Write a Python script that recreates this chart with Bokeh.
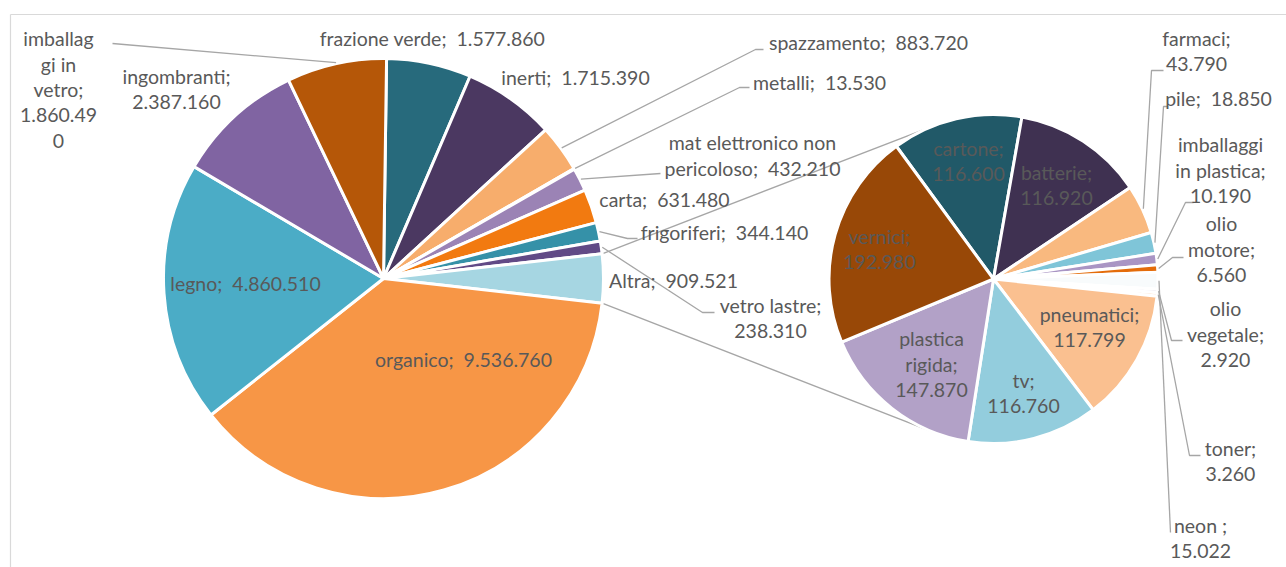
import math
from bokeh.plotting import figure
from bokeh.models import Range1d
from bokeh.core.properties import value
from bokeh.embed import file_html
from bokeh.resources import INLINE

# ---------------- data ----------------
main_names = ["frazione verde", "inerti", "spazzamento", "metalli",
              "mat elettronico non pericoloso", "carta", "frigoriferi",
              "vetro lastre", "Altra", "organico", "legno", "ingombranti",
              "imballaggi in vetro"]
main_values = [1577860, 1715390, 883720, 13530, 432210, 631480, 344140,
               238310, 909521, 9536760, 4860510, 2387160, 1860490]
main_colors = ["#276A7C", "#4B3861", "#F7AD6C", "#93CDDD", "#9B83B5", "#F27A10",
               "#3591A8", "#614A86", "#A6D6E2", "#F79646", "#4BACC6", "#8064A2",
               "#B55708"]

sub_names = ["cartone", "batterie", "farmaci", "pile", "imballaggi in plastica",
             "olio motore", "neon ", "olio vegetale", "toner", "pneumatici", "tv",
             "plastica rigida", "vernici"]
sub_values = [116600, 116920, 43790, 18850, 10190, 6560, 15022, 2920, 3260,
              117799, 116760, 147870, 192980]
sub_colors = ["#215968", "#3F3151", "#F9B97F", "#7FC5D8", "#A995C4", "#E46C0A",
              "#F8FBFC", "#E5E0EC", "#FCD5B5", "#FAC090", "#93CDDD", "#B2A1C7",
              "#984807"]

# ---------------- layout ----------------
W, H = 1286, 567
def Y(y):  # screen y -> data y
    return H - y

C1 = (383.0, Y(278)); R1 = 220.0
C2 = (993.0, Y(278.5)); R2 = 164.5
SUB_START = -36.2
LINE_H = 25.5
FONT_SIZE = "19.5px"
TEXT_COLOR = "#595959"
LEADER_COLOR = "#A6A6A6"
GAP = "\u00a0\u00a0"  # wide gap after the semicolon, as in the original

def fmt(v):
    return f"{v:,}".replace(",", ".")

def slices(values, start_deg):
    tot = float(sum(values)); out = []; a = start_deg
    for v in values:
        d = 360.0 * v / tot
        out.append((a, a + d)); a += d
    return out

def pt(c, r, a_deg):
    a = math.radians(a_deg)
    return (c[0] + r * math.sin(a), c[1] + r * math.cos(a))

tot1 = float(sum(main_values))
ia = main_names.index("Altra")
before = sum(main_values[:ia]) * 360.0 / tot1
main_start = 90.0 - 360.0 * main_values[ia] / tot1 / 2.0 - before
main_sl = slices(main_values, main_start)
sub_sl = slices(sub_values, SUB_START)

def word_wrap(words, width):
    lines = []; cur = ""
    for w in words:
        if cur == "":
            cur = w; continue
        sep = GAP if cur.endswith(";") else " "
        cand = cur + sep + w
        if len(cand.replace(GAP, " ")) <= width:
            cur = cand
        else:
            lines.append(cur); cur = w
    if cur:
        lines.append(cur)
    return lines

def char_breaks(s, breaks):
    out = []; prev = 0
    for b in breaks + [len(s)]:
        out.append(s[prev:b].strip()); prev = b
    return out

# label layout: name -> (center x, first line screen y, wrap)
main_label_pos = {
    "imballaggi in vetro": (58, 38, [8, 13, 20, 30]),
    "ingombranti": (176, 76, 12),
    "frazione verde": (432, 38, None),
    "inerti": (575, 77, None),
    "spazzamento": (868, 42, None),
    "metalli": (819, 82, None),
    "mat elettronico non pericoloso": (752, 142, 19),
    "carta": (664, 199, None),
    "frigoriferi": (724, 232, None),
    "vetro lastre": (770, 305, 13),
    "Altra": (673, 280, None),
    "organico": (463, 359, None),
    "legno": (245, 283, None),
}
sub_label_pos = {
    "cartone": (968, 148, 8),
    "batterie": (1056, 172, 9),
    "farmaci": (1196, 38, 8),
    "pile": (1218, 98, None),
    "imballaggi in plastica": (1220, 144, 12),
    "olio motore": (1221, 223, 7),
    "neon ": (1200, 525, 6),
    "olio vegetale": (1225, 308, 9),
    "toner": (1230, 448, 6),
    "pneumatici": (1089, 314, 11),
    "tv": (1023, 380, 7),
    "plastica rigida": (931, 338, 8),
    "vernici": (879, 236, 8),
}
# leader line elbows (screen coords) after the anchor on the slice
main_leaders = {
    "imballaggi in vetro": [(112, 43)],
    "spazzamento": [(755, 49), (763, 49)],
    "metalli": [(739, 87), (749, 87)],
    "mat elettronico non pericoloso": [(660, 173)],
    "frigoriferi": [(627, 238), (637, 238)],
    "vetro lastre": [(702, 312), (714, 312)],
}
sub_leaders = {
    "farmaci": [(1151, 70), (1163, 70)],
    "pile": [(1163, 106), (1167, 106)],
    "imballaggi in plastica": [(1185, 202), (1193, 202)],
    "olio motore": [(1172, 257), (1183, 257)],
    "olio vegetale": [(1171, 340), (1182, 340)],
    "toner": [(1189, 455), (1200, 455)],
    "neon ": [(1170, 532)],
}

# ---------------- figure ----------------
p = figure(width=W, height=H, x_range=Range1d(0, W), y_range=Range1d(0, H),
           output_backend="svg", toolbar_location=None,
           x_axis_type=None, y_axis_type=None, min_border=0)
p.outline_line_color = None
p.background_fill_color = "white"
p.border_fill_color = "white"

# chart-area border
p.line([10, 10], [Y(580), Y(14)], line_color="#D9D9D9", line_width=1.2)
p.line([10, 1300], [Y(14), Y(14)], line_color="#D9D9D9", line_width=1.2)

def draw_pie(c, r, sl, colors):
    p.wedge(x=[c[0]] * len(sl), y=[c[1]] * len(sl), radius=r,
            start_angle=[math.pi / 2 - math.radians(a0) for a0, a1 in sl],
            end_angle=[math.pi / 2 - math.radians(a1) for a0, a1 in sl],
            direction="clock", fill_color=colors, line_color="white",
            line_width=3)

# connector lines (tangents from the Altra slice corners to the second pie)
a0, a1 = main_sl[ia]
cx_, cy_ = [], []
for a, sign in ((a0, 1), (a1, -1)):
    P = pt(C1, R1, a)
    dx, dy = P[0] - C2[0], P[1] - C2[1]
    d = math.hypot(dx, dy)
    alpha = math.atan2(dy, dx)
    phi = math.acos(R2 / d)
    ang = alpha - sign * phi
    T = (C2[0] + R2 * math.cos(ang), C2[1] + R2 * math.sin(ang))
    cx_.append([P[0], T[0]]); cy_.append([P[1], T[1]])
p.multi_line(cx_, cy_, line_color=LEADER_COLOR, line_width=1.4)

draw_pie(C1, R1, main_sl, main_colors)
draw_pie(C2, R2, sub_sl, sub_colors)

# leader lines
lxs, lys = [], []
for names, sl, c, r, leaders in ((main_names, main_sl, C1, R1, main_leaders),
                                 (sub_names, sub_sl, C2, R2, sub_leaders)):
    for n, (s0, s1) in zip(names, sl):
        if n in leaders:
            A = pt(c, r + 1, (s0 + s1) / 2)
            xs = [A[0]] + [q[0] for q in leaders[n]]
            ys = [A[1]] + [Y(q[1]) for q in leaders[n]]
            lxs.append(xs); lys.append(ys)
p.multi_line(lxs, lys, line_color=LEADER_COLOR, line_width=1.3)

# labels
tx, ty, tt = [], [], []
for names, vals, pos in ((main_names, main_values, main_label_pos),
                         (sub_names, sub_values, sub_label_pos)):
    for n, v in zip(names, vals):
        x, y, wrap = pos[n]
        words = (n.strip() + (" ;" if n.endswith(" ") else ";")).split(" ")
        words = [w for w in words if w] + [fmt(v)]
        s = word_wrap(words, 10 ** 6)[0]
        if wrap is None:
            lines = [s]
        elif isinstance(wrap, list):
            lines = char_breaks(s, wrap)
        else:
            lines = word_wrap(words, wrap)
        for k, line in enumerate(lines):
            tx.append(x); ty.append(Y(y + k * LINE_H)); tt.append(line)
p.text(x=tx, y=ty, text=tt, text_font=value("Lato"), text_font_size=FONT_SIZE,
       text_color=TEXT_COLOR, text_align="center", text_baseline="middle")

open("out.html", "w").write(file_html(p, INLINE))
